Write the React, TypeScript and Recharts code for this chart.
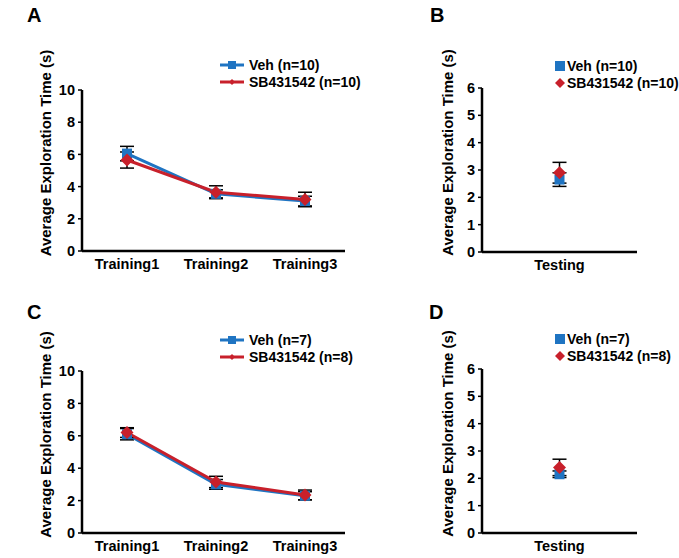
import { LineChart, Line, XAxis, YAxis, ErrorBar, Legend } from 'recharts';

// Training sessions (panels A and C)
const trainingDays = ['Training1', 'Training2', 'Training3'];
const vehA = [6.05, 3.55, 3.1];
const vehAErr = [0.45, 0.25, 0.3];
const sbA = [5.65, 3.65, 3.2];
const sbAErr = [0.5, 0.4, 0.45];

const vehC = [6.1, 3.0, 2.3];
const vehCErr = [0.35, 0.3, 0.25];
const sbC = [6.2, 3.15, 2.35];
const sbCErr = [0.3, 0.35, 0.3];

// Testing session (panels B and D)
const testingDays = ['Testing'];
const vehB = [2.65];
const vehBErr = [0.25];
const sbB = [2.9];
const sbBErr = [0.38];

const vehD = [2.15];
const vehDErr = [0.12];
const sbD = [2.4];
const sbDErr = [0.3];

const trainingTicks = [0, 2, 4, 6, 8, 10];
const testingTicks = [0, 1, 2, 3, 4, 5, 6];

const BLUE = '#1f74c2';
const RED = '#c8202b';
const FONT = '"Liberation Sans", Arial, sans-serif';

const buildRows = (cats: string[], veh: number[], vehErr: number[], sb: number[], sbErr: number[]) =>
  cats.map((c, i) => ({ day: c, veh: veh[i], vehErr: vehErr[i], sb: sb[i], sbErr: sbErr[i] }));

const SquareDot = (props: any) => {
  const { cx, cy, index } = props;
  if (cx == null || cy == null) return <g key={`s-${index}`} />;
  return <rect key={`s-${index}`} x={cx - 5} y={cy - 5} width={10} height={10} fill={BLUE} />;
};

const DiamondDot = (props: any) => {
  const { cx, cy, index } = props;
  if (cx == null || cy == null) return <g key={`d-${index}`} />;
  return (
    <polygon
      key={`d-${index}`}
      points={`${cx},${cy - 6.5} ${cx + 6.5},${cy} ${cx},${cy + 6.5} ${cx - 6.5},${cy}`}
      fill={RED}
    />
  );
};

function LegendBox({ labels, withLine }: { labels: string[]; withLine: boolean }) {
  const rows = [
    { color: BLUE, shape: 'square', text: labels[0] },
    { color: RED, shape: 'diamond', text: labels[1] },
  ];
  return (
    <div style={{ fontFamily: FONT, fontWeight: 'bold', fontSize: 14, color: '#000', whiteSpace: 'nowrap' }}>
      {rows.map((r) => (
        <div key={r.text} style={{ display: 'flex', alignItems: 'center', height: 17.5 }}>
          <svg width={withLine ? 26 : 10} height={14} style={{ marginRight: withLine ? 3 : 2, flexShrink: 0 }}>
            {withLine && <line x1={0} y1={7} x2={24} y2={7} stroke={r.color} strokeWidth={3} />}
            {r.shape === 'square' ? (
              withLine ? (
                <rect x={8} y={3} width={8} height={8} fill={r.color} />
              ) : (
                <rect x={0} y={2} width={10} height={10} fill={r.color} />
              )
            ) : withLine ? (
              <polygon points="12,4 15,7 12,10 9,7" fill={r.color} />
            ) : (
              <polygon points="5,2 10,7 5,12 0,7" fill={r.color} />
            )}
          </svg>
          <span>{r.text}</span>
        </div>
      ))}
    </div>
  );
}

interface PanelProps {
  rows: Array<Record<string, number | string>>;
  width: number;
  height: number;
  top: number;
  bottom: number;
  right: number;
  domainMax: number;
  ticks: number[];
  labels: string[];
  withLine: boolean;
  legendPos: { left: number; top: number };
  labelX: number;
  xPad: { left: number; right: number };
}

function Panel({ rows, width, height, top, bottom, right, domainMax, ticks, labels, withLine, legendPos, labelX, xPad }: PanelProps) {
  const tickStyle = { fill: '#000', fontSize: 14.5, fontWeight: 'bold' as const, fontFamily: FONT };
  const plotBottom = height - bottom - 25;
  const midY = (top + plotBottom) / 2;
  return (
    <LineChart width={width} height={height} data={rows} margin={{ top, right, left: 20, bottom }}>
      <XAxis
        dataKey="day"
        tick={tickStyle}
        tickLine={false}
        axisLine={{ stroke: '#000', strokeWidth: 2.5 }}
        height={25}
        padding={xPad}
      />
      <YAxis
        domain={[0, domainMax]}
        ticks={ticks}
        interval={0}
        width={62}
        tick={tickStyle}
        tickSize={4}
        tickMargin={3}
        tickLine={{ stroke: '#000', strokeWidth: 1.5 }}
        axisLine={{ stroke: '#000', strokeWidth: 2.5 }}
        label={{
          content: () => (
            <text
              x={labelX}
              y={midY}
              transform={`rotate(-90 ${labelX} ${midY})`}
              textAnchor="middle"
              dominantBaseline="central"
              fill="#000"
              fontSize={15}
              fontWeight="bold"
              fontFamily={FONT}
            >
              Average Exploration Time (s)
            </text>
          ),
        }}
      />
      <Legend
        verticalAlign="top"
        align="left"
        wrapperStyle={{ position: 'absolute', left: legendPos.left, top: legendPos.top, width: 170 }}
        content={() => <LegendBox labels={labels} withLine={withLine} />}
      />
      <Line
        dataKey="veh"
        name={labels[0]}
        stroke={BLUE}
        strokeWidth={3}
        dot={SquareDot}
        activeDot={false}
        isAnimationActive={false}
      >
        <ErrorBar dataKey="vehErr" width={7} strokeWidth={1.5} stroke="#000" direction="y" />
      </Line>
      <Line
        dataKey="sb"
        name={labels[1]}
        stroke={RED}
        strokeWidth={3}
        dot={DiamondDot}
        activeDot={false}
        isAnimationActive={false}
      >
        <ErrorBar dataKey="sbErr" width={7} strokeWidth={1.5} stroke="#000" direction="y" />
      </Line>
    </LineChart>
  );
}

const letterStyle = {
  position: 'absolute' as const,
  fontFamily: FONT,
  fontWeight: 'bold' as const,
  fontSize: 20,
  lineHeight: '20px',
  color: '#000',
};

export default function App() {
  return (
    <div style={{ position: 'absolute', left: 0, top: 0, width: 679, height: 558, background: '#fff' }}>
      <div style={{ ...letterStyle, left: 27, top: 5 }}>A</div>
      <div style={{ ...letterStyle, left: 430, top: 5 }}>B</div>
      <div style={{ ...letterStyle, left: 27, top: 302 }}>C</div>
      <div style={{ ...letterStyle, left: 429, top: 302 }}>D</div>

      <div style={{ position: 'absolute', left: 0, top: 0 }}>
        <Panel
          rows={buildRows(trainingDays, vehA, vehAErr, sbA, sbAErr)}
          width={360}
          height={280}
          top={55}
          bottom={4}
          right={15}
          domainMax={10}
          ticks={trainingTicks}
          labels={['Veh (n=10)', 'SB431542 (n=10)']}
          withLine
          legendPos={{ left: 220, top: 56 }}
          labelX={45}
          xPad={{ left: 45, right: 40 }}
        />
      </div>
      <div style={{ position: 'absolute', left: 400, top: 0 }}>
        <Panel
          rows={buildRows(testingDays, vehB, vehBErr, sbB, sbBErr)}
          width={279}
          height={280}
          top={53}
          bottom={3}
          right={42}
          domainMax={6}
          ticks={testingTicks}
          labels={['Veh (n=10)', 'SB431542 (n=10)']}
          withLine={false}
          legendPos={{ left: 155, top: 57 }}
          labelX={47}
          xPad={{ left: 0, right: 0 }}
        />
      </div>
      <div style={{ position: 'absolute', left: 0, top: 290 }}>
        <Panel
          rows={buildRows(trainingDays, vehC, vehCErr, sbC, sbCErr)}
          width={360}
          height={268}
          top={46}
          bottom={0}
          right={15}
          domainMax={10}
          ticks={trainingTicks}
          labels={['Veh (n=7)', 'SB431542 (n=8)']}
          withLine
          legendPos={{ left: 220, top: 41 }}
          labelX={45}
          xPad={{ left: 45, right: 40 }}
        />
      </div>
      <div style={{ position: 'absolute', left: 400, top: 290 }}>
        <Panel
          rows={buildRows(testingDays, vehD, vehDErr, sbD, sbDErr)}
          width={279}
          height={268}
          top={44}
          bottom={0}
          right={42}
          domainMax={6}
          ticks={testingTicks}
          labels={['Veh (n=7)', 'SB431542 (n=8)']}
          withLine={false}
          legendPos={{ left: 155, top: 40 }}
          labelX={47}
          xPad={{ left: 0, right: 0 }}
        />
      </div>
    </div>
  );
}
